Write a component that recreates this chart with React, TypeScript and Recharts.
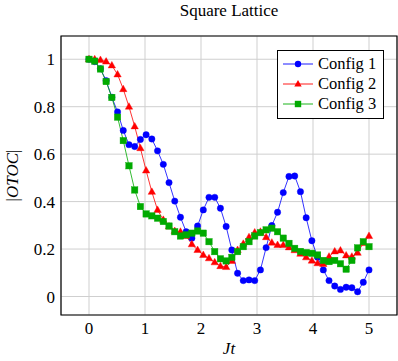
import React from 'react';
import { LineChart, Line, XAxis, YAxis, CartesianGrid, Legend, ReferenceArea, Label } from 'recharts';

// Jt sample points (50 steps from 0 to 5)
const times = [
  0, 0.102, 0.204, 0.306, 0.408, 0.51, 0.612, 0.714, 0.816, 0.918,
  1.02, 1.122, 1.224, 1.327, 1.429, 1.531, 1.633, 1.735, 1.837, 1.939,
  2.041, 2.143, 2.245, 2.347, 2.449, 2.551, 2.653, 2.755, 2.857, 2.959,
  3.061, 3.163, 3.265, 3.367, 3.469, 3.571, 3.673, 3.776, 3.878, 3.98,
  4.082, 4.184, 4.286, 4.388, 4.49, 4.592, 4.694, 4.796, 4.898, 5.0,
];

const config1 = [
  1.0, 0.99, 0.96, 0.91, 0.84, 0.778, 0.70, 0.64, 0.632, 0.662,
  0.682, 0.664, 0.614, 0.557, 0.48, 0.402, 0.334, 0.273, 0.246, 0.297,
  0.365, 0.418, 0.418, 0.372, 0.295, 0.196, 0.098, 0.067, 0.07, 0.067,
  0.112, 0.206, 0.299, 0.355, 0.438, 0.506, 0.508, 0.442, 0.332, 0.235,
  0.165, 0.112, 0.067, 0.044, 0.03, 0.039, 0.037, 0.02, 0.06, 0.112,
];

const config2 = [
  1.0, 1.0, 0.997, 0.99, 0.974, 0.936, 0.874, 0.80, 0.717, 0.625,
  0.531, 0.441, 0.365, 0.323, 0.295, 0.276, 0.273, 0.255, 0.22, 0.196,
  0.175, 0.161, 0.144, 0.128, 0.124, 0.15, 0.196, 0.222, 0.25, 0.27,
  0.273, 0.25, 0.227, 0.217, 0.217, 0.207, 0.195, 0.18, 0.165, 0.151,
  0.14, 0.137, 0.168, 0.19, 0.194, 0.173, 0.168, 0.184, 0.225, 0.255,
];

const config3 = [
  1.0, 0.992, 0.959, 0.906, 0.839, 0.756, 0.657, 0.551, 0.449, 0.379,
  0.348, 0.34, 0.33, 0.316, 0.297, 0.273, 0.255, 0.26, 0.267, 0.276,
  0.267, 0.231, 0.189, 0.159, 0.15, 0.165, 0.189, 0.21, 0.231, 0.255,
  0.269, 0.281, 0.288, 0.273, 0.246, 0.224, 0.203, 0.19, 0.185, 0.182,
  0.175, 0.152, 0.147, 0.152, 0.138, 0.115, 0.152, 0.205, 0.231, 0.21,
];

const xTicks = [0, 1, 2, 3, 4, 5];
const yTicks = [0, 0.2, 0.4, 0.6, 0.8, 1];
const seriesNames = ['Config 1', 'Config 2', 'Config 3'];

const BLUE = '#0000ff';
const RED = '#ff0000';
const GREEN = '#00aa00';
const FONT = 'Liberation Serif';

const data = times.map((t, i) => ({ t, c1: config1[i], c2: config2[i], c3: config3[i] }));

const circleDot = (p: any) => {
  if (p.cx == null || p.cy == null) return <g key={p.index} />;
  return <circle key={p.index} cx={p.cx} cy={p.cy} r={3.2} fill={BLUE} stroke={BLUE} strokeWidth={0.4} />;
};

const triangleDot = (p: any) => {
  if (p.cx == null || p.cy == null) return <g key={p.index} />;
  const { cx, cy } = p;
  const pts = `${cx},${cy - 4} ${cx - 3.7},${cy + 2.5} ${cx + 3.7},${cy + 2.5}`;
  return <polygon key={p.index} points={pts} fill={RED} stroke={RED} strokeWidth={0.4} />;
};

const squareDot = (p: any) => {
  if (p.cx == null || p.cy == null) return <g key={p.index} />;
  return <rect key={p.index} x={p.cx - 3.2} y={p.cy - 3.2} width={6.4} height={6.4} fill={GREEN} stroke={GREEN} strokeWidth={0.4} />;
};

const legendMarks = [
  { color: BLUE, mark: <circle cx={15} cy={6} r={3.2} fill={BLUE} /> },
  { color: RED, mark: <polygon points="15,2 11.3,8.5 18.7,8.5" fill={RED} /> },
  { color: GREEN, mark: <rect x={11.8} y={2.8} width={6.4} height={6.4} fill={GREEN} /> },
];

const LegendBox = () => (
  <div
    style={{
      border: '1px solid #000',
      background: '#fff',
      padding: '3px 6px 4px 5px',
      fontFamily: FONT,
      fontSize: 16.5,
      lineHeight: '20px',
      boxSizing: 'border-box',
      width: 107,
    }}
  >
    {seriesNames.map((name, i) => (
      <div key={name} style={{ display: 'flex', alignItems: 'center', height: 20 }}>
        <svg width={31} height={12} style={{ marginRight: 4 }}>
          <line x1={0} y1={6} x2={30} y2={6} stroke={legendMarks[i].color} strokeWidth={0.9} />
          {legendMarks[i].mark}
        </svg>
        <span>{name}</span>
      </div>
    ))}
  </div>
);

export default function App() {
  return (
    <div style={{ position: 'absolute', left: 0, top: 0, width: 398, height: 361, background: '#fff' }}>
      <div
        style={{
          position: 'absolute',
          left: 61,
          top: 3,
          width: 336,
          textAlign: 'center',
          fontFamily: FONT,
          fontSize: 17,
          lineHeight: '16px',
        }}
      >
        Square Lattice
      </div>
      <LineChart width={398} height={361} data={data} margin={{ top: 36, right: 1, bottom: 0, left: 0 }}>
        <CartesianGrid stroke="#cfcfcf" strokeWidth={1} />
        <XAxis
          type="number"
          dataKey="t"
          domain={[-0.5, 5.5]}
          ticks={xTicks}
          allowDataOverflow
          axisLine={false}
          tickLine={false}
          tickSize={6}
          tickMargin={1}
          height={46}
          tick={{ fill: '#000', fontSize: 17, fontFamily: FONT }}
        >
          <Label
            content={({ viewBox }: any) => (
              <text
                x={viewBox.x + viewBox.width / 2}
                y={viewBox.y + viewBox.height - 7}
                textAnchor="middle"
                fontFamily={FONT}
                fontSize={17}
                fontStyle="italic"
              >
                Jt
              </text>
            )}
          />
        </XAxis>
        <YAxis
          type="number"
          domain={[-0.078, 1.098]}
          ticks={yTicks}
          allowDataOverflow
          axisLine={false}
          tickLine={false}
          tickSize={6}
          tickMargin={0}
          width={61}
          tickFormatter={(v: number) => String(v)}
          tick={{ fill: '#000', fontSize: 17, fontFamily: FONT }}
        >
          <Label
            content={({ viewBox }: any) => {
              const cx = 12;
              const cy = viewBox.y + viewBox.height / 2;
              return (
                <text
                  x={cx}
                  y={cy}
                  transform={`rotate(-90 ${cx} ${cy})`}
                  textAnchor="middle"
                  dominantBaseline="central"
                  fontFamily={FONT}
                  fontSize={17}
                >
                  |<tspan fontStyle="italic">OTOC</tspan>|
                </text>
              );
            }}
          />
        </YAxis>
        <Line
          dataKey="c1"
          name={seriesNames[0]}
          stroke={BLUE}
          strokeWidth={0.8}
          dot={circleDot}
          activeDot={false}
          isAnimationActive={false}
        />
        <Line
          dataKey="c2"
          name={seriesNames[1]}
          stroke={RED}
          strokeWidth={0.8}
          dot={triangleDot}
          activeDot={false}
          isAnimationActive={false}
        />
        <Line
          dataKey="c3"
          name={seriesNames[2]}
          stroke={GREEN}
          strokeWidth={0.8}
          dot={squareDot}
          activeDot={false}
          isAnimationActive={false}
        />
        <ReferenceArea
          x1={-0.5}
          x2={5.5}
          y1={-0.078}
          y2={1.098}
          fill="none"
          fillOpacity={0}
          stroke="#000"
          strokeWidth={1.2}
          ifOverflow="extendDomain"
        />
        <Legend
          layout="vertical"
          align="center"
          verticalAlign="middle"
          content={() => <LegendBox />}
          wrapperStyle={{ left: 277, top: 50, width: 107, height: 67 }}
        />
      </LineChart>
    </div>
  );
}
